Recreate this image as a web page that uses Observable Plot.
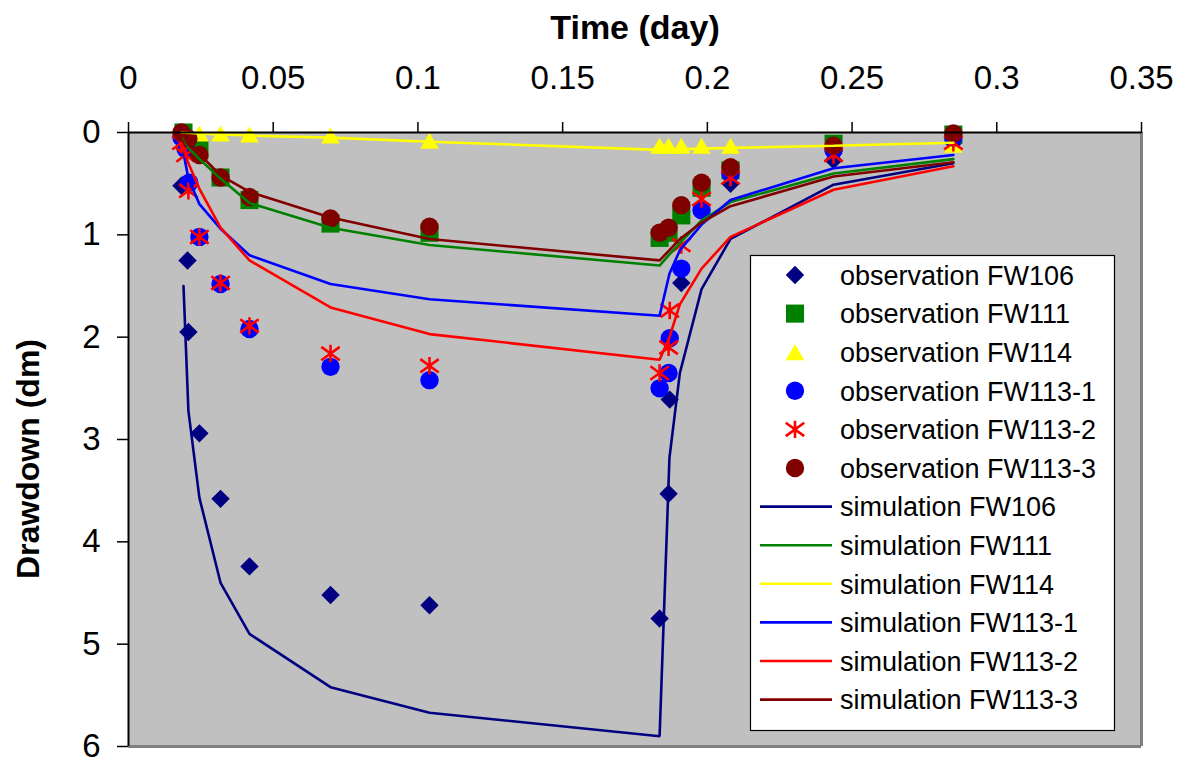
<!DOCTYPE html>
<html>
<head>
<meta charset="utf-8">
<script src="https://cdn.jsdelivr.net/npm/d3@7"></script>
<script src="https://cdn.jsdelivr.net/npm/@observablehq/plot@0.6"></script>
<style>
  body { margin: 0; background: #fff; font-family: "Liberation Sans", Arial, sans-serif; }
  #wrap { position: relative; width: 1179px; height: 757px; overflow: hidden; }
  #wrap > svg.overlay { position: absolute; left: 0; top: 0; pointer-events: none; }
</style>
</head>
<body>
<div id="wrap"></div>
<script>
// ---------- data ----------
const xTicks = [0, 0.05, 0.1, 0.15, 0.2, 0.25, 0.3, 0.35];
const yTicks = [0, 1, 2, 3, 4, 5, 6];

const seriesNames  = ["FW106", "FW111", "FW114", "FW113-1", "FW113-2", "FW113-3"];
const seriesColors = ["#000080", "#008000", "#FFFF00", "#0000FF", "#FF0000", "#800000"];

// observation times (day)
const obsTime = [0.0183, 0.0190, 0.0197, 0.0204, 0.0207, 0.0210, 0.0245, 0.0318, 0.0418, 0.0698, 0.104,
                 0.1835, 0.1866, 0.187, 0.191, 0.198, 0.208, 0.2436, 0.285];
// observed drawdown (dm)
const obsFW106  = [0.52, null, null, 1.25, 1.95, null, 2.94, 3.58, 4.24, 4.52, 4.62, 4.75, 3.53, 2.61, 1.47, null, 0.50, 0.27, 0.10];
const obsFW111  = [null, 0.00, null, null, null, null, 0.17, 0.44, 0.66, 0.89, 0.98, 1.03, 0.98, null, 0.81, 0.54, 0.37, 0.11, 0.02];
const obsFW114  = [0.00, null, null, null, null, null, 0.01, 0.01, 0.02, 0.03, 0.08, 0.13, 0.13, null, 0.13, 0.13, 0.13, 0.12, 0.12];
const obsFW1131 = [0.05, null, 0.16, null, null, 0.49, 1.02, 1.48, 1.92, 2.29, 2.42, 2.50, 2.35, 2.01, 1.33, 0.76, 0.40, 0.17, 0.05];
const obsFW1132 = [0.10, null, 0.22, null, 0.57, null, 1.02, 1.47, 1.89, 2.16, 2.28, 2.35, 2.10, 1.74, 1.10, 0.65, 0.44, 0.22, 0.10];
const obsFW1133 = [0.00, null, null, null, 0.06, null, 0.22, 0.44, 0.63, 0.84, 0.92, 0.98, 0.93, null, 0.71, 0.49, 0.34, 0.13, 0.01];

// simulation times (day)
const simTime = [0.0183, 0.0190, 0.0207, 0.0245, 0.0318, 0.0418, 0.0698, 0.104, 0.1835, 0.1869, 0.1905, 0.198, 0.208, 0.2436, 0.285];
// simulated drawdown (dm)
const simFW106  = [null, 1.50, 2.72, 3.57, 4.40, 4.90, 5.42, 5.67, 5.90, 3.18, 2.35, 1.53, 1.04, 0.51, 0.30];
const simFW111  = [null, 0.05, 0.15, 0.26, 0.45, 0.69, 0.93, 1.10, 1.30, 1.19, 1.08, 0.86, 0.68, 0.40, 0.26];
const simFW114  = [0.00, null, null, 0.01, 0.02, 0.03, 0.05, 0.09, 0.17, null, null, null, 0.15, 0.13, 0.10];
const simFW1131 = [null, 0.20, 0.45, 0.70, 0.94, 1.20, 1.48, 1.63, 1.79, 1.38, 1.15, 0.90, 0.66, 0.35, 0.22];
const simFW1132 = [0.10, 0.17, 0.30, 0.55, 0.93, 1.25, 1.71, 1.97, 2.22, 2.00, 1.68, 1.33, 1.02, 0.56, 0.33];
const simFW1133 = [null, 0.03, 0.12, 0.21, 0.42, 0.58, 0.83, 1.04, 1.25, 1.15, 1.04, 0.88, 0.72, 0.43, 0.29];

const obsValues = [obsFW106, obsFW111, obsFW114, obsFW1131, obsFW1132, obsFW1133];
const simValues = [simFW106, simFW111, simFW114, simFW1131, simFW1132, simFW1133];

// ---------- helpers ----------
function rows(times, values, name) {
  return times.map((t, i) => ({t, v: values[i], name})).filter(d => d.v != null);
}

// Excel-like star marker: vertical bar + X
const starSymbol = {
  draw(ctx, size) {
    const r = Math.sqrt(size / Math.PI);
    const a = r * 1.06, b = r * 0.77;
    ctx.moveTo(0, -r); ctx.lineTo(0, r);
    ctx.moveTo(-a, -b); ctx.lineTo(a, b);
    ctx.moveTo(-a, b); ctx.lineTo(a, -b);
  }
};

const markerSpecs = [
  {symbol: "diamond2", r: 8.3, filled: true,  dy: 0},
  {symbol: "square",   r: 10.2, filled: true, dy: 0},
  {symbol: "triangle", r: 6.9, filled: true,  dy: 2.6},
  {symbol: "circle",   r: 9.2, filled: true,  dy: 0},
  {symbol: starSymbol, r: 8.7, filled: false, dy: 0},
  {symbol: "circle",   r: 9.2, filled: true,  dy: 0}
];

const W = 1179, H = 757;
const FONT = "'Liberation Sans', Arial, Helvetica, sans-serif";

const marks = [
  Plot.frame({fill: "#C0C0C0", stroke: null})
];

// observation markers (series order)
seriesNames.forEach((name, i) => {
  const spec = markerSpecs[i];
  const data = rows(obsTime, obsValues[i], name);
  if (spec.filled) {
    marks.push(Plot.dot(data, {x: "t", y: "v", symbol: spec.symbol, r: spec.r, dy: spec.dy,
      fill: seriesColors[i], stroke: "none"}));
  } else {
    marks.push(Plot.dot(data, {x: "t", y: "v", symbol: spec.symbol, r: spec.r,
      fill: "none", stroke: seriesColors[i], strokeWidth: 2.6}));
  }
});

// simulation lines
seriesNames.forEach((name, i) => {
  marks.push(Plot.line(rows(simTime, simValues[i], name), {x: "t", y: "v",
    stroke: seriesColors[i], strokeWidth: 2.6, strokeLinejoin: "miter"}));
});

// plot-area borders
marks.push(Plot.ruleX([0.35], {stroke: "#808080", strokeWidth: 3}));
marks.push(Plot.ruleY([6], {stroke: "#808080", strokeWidth: 3}));
marks.push(Plot.ruleY([0], {stroke: "#000", strokeWidth: 2}));
marks.push(Plot.ruleX([0], {stroke: "#000", strokeWidth: 2}));

// axes
marks.push(Plot.axisX(xTicks, {anchor: "top", tickSize: 11, tickPadding: 33,
  tickFormat: d => String(d), label: null, stroke: "#000", strokeWidth: 1.5}));
marks.push(Plot.axisY(yTicks, {anchor: "left", tickSize: 11, tickPadding: 17,
  tickFormat: d => String(d), label: null, stroke: "#000", strokeWidth: 1.5}));

const chart = Plot.plot({
  width: W,
  height: H,
  marginTop: 132,
  marginLeft: 128,
  marginRight: 38,
  marginBottom: 11,
  x: {domain: [0, 0.35], label: null},
  y: {domain: [0, 6], reverse: true, label: null},
  style: `font: 33px ${FONT}; color: #000; background: #fff; overflow: visible;`,
  marks
});

const wrap = document.getElementById("wrap");
wrap.appendChild(chart);

// ---------- titles & legend overlay ----------
const ov = d3.select(wrap).append("svg")
  .attr("class", "overlay")
  .attr("width", W).attr("height", H)
  .style("font-family", FONT);

ov.append("text")
  .attr("x", 635).attr("y", 39)
  .attr("text-anchor", "middle")
  .attr("font-size", 34).attr("font-weight", "bold")
  .text("Time (day)");

ov.append("text")
  .attr("transform", "translate(39,459) rotate(-90)")
  .attr("text-anchor", "middle")
  .attr("font-size", 32).attr("font-weight", "bold")
  .text("Drawdown (dm)");

const lg = ov.append("g").attr("transform", "translate(750,255)");
lg.append("rect").attr("x", 0.5).attr("y", 0.5).attr("width", 364).attr("height", 475)
  .attr("fill", "#fff").attr("stroke", "#000").attr("stroke-width", 1.2);

const step = 38.6, y0 = 20;
const d3Sym = {diamond2: d3.symbolDiamond2, square: d3.symbolSquare, triangle: d3.symbolTriangle, circle: d3.symbolCircle};
seriesNames.forEach((name, i) => {
  const spec = markerSpecs[i];
  const cy = y0 + i * step;
  const symType = typeof spec.symbol === "string" ? d3Sym[spec.symbol] : spec.symbol;
  const path = d3.symbol(symType, Math.PI * spec.r * spec.r)();
  const p = lg.append("path").attr("d", path)
    .attr("transform", `translate(45,${cy + spec.dy})`);
  if (spec.filled) p.attr("fill", seriesColors[i]);
  else p.attr("fill", "none").attr("stroke", seriesColors[i]).attr("stroke-width", 2.6);
  lg.append("text").attr("x", 90).attr("y", cy + 9.7).attr("font-size", 27)
    .text("observation " + name);
});
seriesNames.forEach((name, i) => {
  const cy = y0 + (i + 6) * step;
  lg.append("line").attr("x1", 10).attr("x2", 82).attr("y1", cy).attr("y2", cy)
    .attr("stroke", seriesColors[i]).attr("stroke-width", 2.6);
  lg.append("text").attr("x", 90).attr("y", cy + 9.7).attr("font-size", 27)
    .text("simulation " + name);
});
</script>
</body>
</html>
